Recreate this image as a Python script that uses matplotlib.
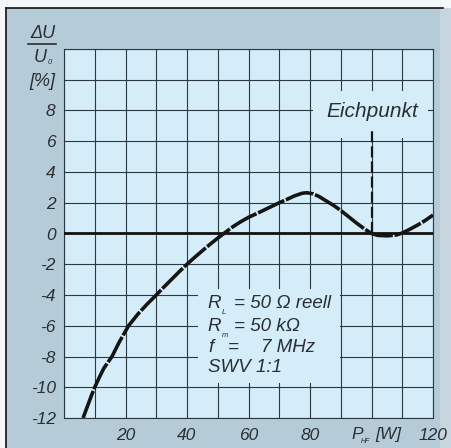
import matplotlib
matplotlib.use("Agg")
import matplotlib.pyplot as plt
import matplotlib.patches as patches
from matplotlib.lines import Line2D

plt.rcParams['font.family'] = ['Liberation Sans', 'DejaVu Sans']

# curve: P_HF [W] -> dU/U0 [%]
p_hf = [6.2, 7.5, 9, 10, 11.5, 13, 15.6, 18, 21, 24, 27, 30, 32.5, 35, 37.5,
        40, 42.5, 45, 47.5, 50, 52.5, 55, 57.5, 60, 62.5, 65, 67.5, 70, 72.5,
        75, 77.5, 79, 81, 83, 85, 87.5, 90, 92.5, 95, 97.5, 100, 102, 105,
        108, 110, 112.5, 115, 117.5, 120]
du = [-12, -11.3, -10.5, -10, -9.35, -8.75, -8, -7.05, -6, -5.25, -4.6, -4, -3.48, -2.98, -2.48,
      -2, -1.55, -1.12, -0.7, -0.3, 0.08, 0.45, 0.77, 1.05, 1.28, 1.52, 1.76, 2.0, 2.22,
      2.45, 2.62, 2.65, 2.58, 2.4, 2.15, 1.85, 1.5, 1.1, 0.7, 0.33, 0, -0.12, -0.15,
      -0.1, 0.03, 0.28, 0.55, 0.85, 1.2]

eich_x = 100
x_grid = list(range(0, 121, 10))
x_labels = {20: '20', 40: '40', 60: '60', 80: '80', 120: '120'}
y_grid = list(range(-12, 13, 2))
y_labels = {v: str(v) for v in range(-12, 9, 2)}
info_left = ['R', 'R', 'f', 'SWV 1:1']
info_sub = ['L', 'm', '', '']
info_right = ['= 50 Ω reell', '= 50 kΩ', '=', '']

W, H = 451, 448
OUTER = '#b6cbd8'
INNER = '#d4edf9'
GRID = '#2b3a42'
TXT = '#2a2f33'

fig = plt.figure(figsize=(W / 100, H / 100), dpi=100, facecolor='#f4f6f7')

# outer frame (pixel coords converted to figure fraction)
def px(x, y):
    return x / W, 1 - y / H

fig.patches.append(patches.Rectangle(px(440, H), 11 / W, (H - 8) / H, transform=fig.transFigure,
                                     facecolor='#c6d5de', edgecolor='none', zorder=-10))
fig.patches.append(patches.Rectangle(px(6, H), 434 / W, (H - 8) / H, transform=fig.transFigure,
                                     facecolor=OUTER, edgecolor='none', zorder=-10))
fig.lines.append(Line2D([6 / W, 6 / W], [0, 1 - 8 / H], transform=fig.transFigure, color='#111', lw=1.2, zorder=-5))
fig.lines.append(Line2D([6 / W, 443 / W], [1 - 8 / H, 1 - 8 / H], transform=fig.transFigure, color='#111', lw=1.2, zorder=-5))

ax = fig.add_axes([64 / W, 1 - 418 / H, 369 / W, 369 / H])
ax.set_zorder(5)
ax.set_facecolor(INNER)
ax.set_xlim(0, 120)
ax.set_ylim(-12, 12)

ax.set_xticks(x_grid, [x_labels.get(v, '') for v in x_grid], fontstyle='italic', fontsize=12.5, color=TXT)
ax.set_yticks(y_grid, [y_labels.get(v, '') for v in y_grid], fontstyle='italic', fontsize=12.5, color=TXT)
ax.tick_params(length=0)
ax.tick_params(axis='y', pad=6)
ax.tick_params(axis='x', pad=7)
ax.grid(True, color=GRID, lw=0.8, zorder=1)
for s in ax.spines.values():
    s.set_color(GRID)
    s.set_linewidth(0.8)
ax.set_axisbelow(True)

ax.axhline(0, color='#111', lw=2, zorder=3)

# boxes hiding the grid behind the annotations
ax.add_patch(patches.Rectangle((43.6, -9.75), 46.0, 6.15, facecolor=INNER, edgecolor='none', zorder=2))
ax.add_patch(patches.Rectangle((81, 6.2), 37.4, 3.1, facecolor=INNER, edgecolor='none', zorder=2))

ax.plot(p_hf, du, color='#151515', lw=2.6, ls=(0, (8, 0.5)), solid_capstyle='butt', zorder=4)

ax.plot([eich_x, eich_x], [0, 6.7], color='#151515', lw=1.6, ls=(0, (5, 1.8)), zorder=4)
ax.text(100.3, 7.95, 'Eichpunkt', ha='center', va='center', fontsize=15, style='italic', color=TXT, zorder=5)

line_y = [-4.56, -6.06, -7.43, -8.73]
for lab, sub, rhs, yy in zip(info_left, info_sub, info_right, line_y):
    ax.text(46.8, yy, lab, ha='left', va='center', fontsize=13.5, style='italic', color=TXT, zorder=5)
    if sub:
        ax.text(51.4, yy - 0.6, sub, ha='left', va='center', fontsize=5.5, style='italic', color=TXT, zorder=5)
    if rhs:
        ax.text(55.4 if rhs != '=' else 53.3, yy, rhs, ha='left', va='center', fontsize=13.5,
                style='italic', color=TXT, zorder=5)
ax.text(64.2, line_y[2], '7 MHz', ha='left', va='center', fontsize=13.5, style='italic', color=TXT, zorder=5)

# x axis quantity label
fig.text(351 / W, 1 - 434 / H, 'P', ha='left', va='center', fontsize=12.5, style='italic', color=TXT)
fig.text(361 / W, 1 - 441 / H, 'HF', ha='left', va='center', fontsize=5, style='italic', color=TXT)
fig.text(375 / W, 1 - 434 / H, '[W]', ha='left', va='center', fontsize=12.5, style='italic', color=TXT)

# y axis quantity label
fig.text(55 / W, 1 - 34 / H, 'ΔU', ha='right', va='center', fontsize=13, style='italic', color=TXT)
fig.lines.append(Line2D([28 / W, 56 / W], [1 - 44 / H, 1 - 44 / H], transform=fig.transFigure, color=TXT, lw=1.2))
fig.text(47 / W, 1 - 58 / H, 'U', ha='right', va='center', fontsize=13, style='italic', color=TXT)
fig.text(48 / W, 1 - 63 / H, '0', ha='left', va='center', fontsize=5.5, style='italic', color=TXT)
fig.text(55 / W, 1 - 81 / H, '[%]', ha='right', va='center', fontsize=13, style='italic', color=TXT)

fig.savefig('out.png', dpi=100, facecolor=fig.get_facecolor())
